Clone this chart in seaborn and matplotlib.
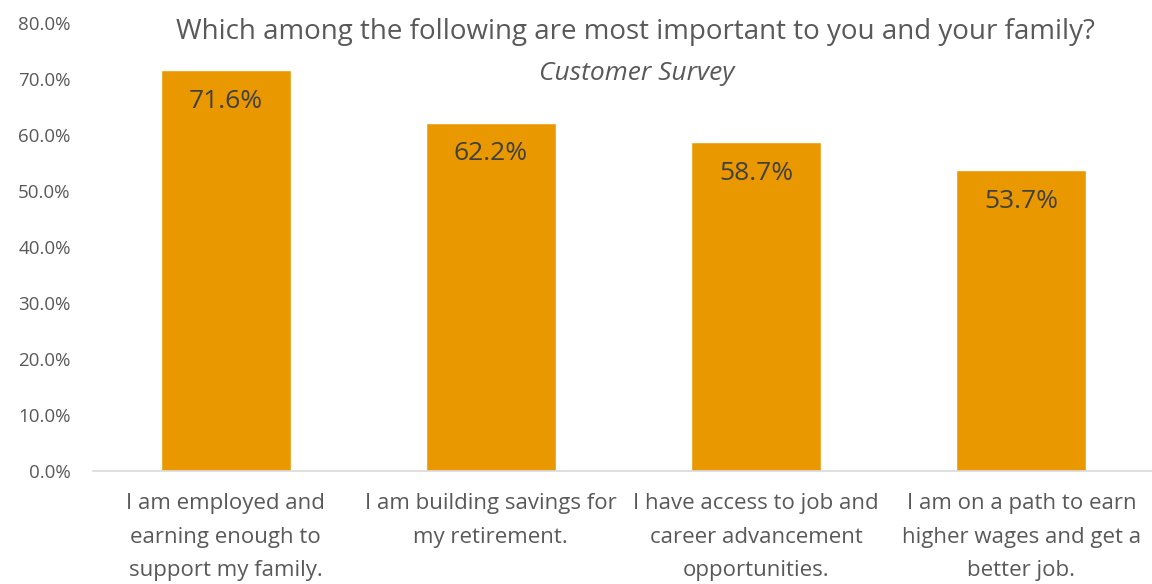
import matplotlib
matplotlib.use("Agg")
import matplotlib.pyplot as plt
import seaborn as sns
import pandas as pd
from matplotlib.ticker import PercentFormatter

# Datos de la encuesta
categories = [
    "I am employed and\nearning enough to\nsupport my family.",
    "I am building savings for\nmy retirement.",
    "I have access to job and\ncareer advancement\nopportunities.",
    "I am on a path to earn\nhigher wages and get a\nbetter job.",
]
values = [71.6, 62.2, 58.7, 53.7]

df = pd.DataFrame({"category": categories, "value": values})

sns.set_theme(style="white")
plt.rcParams["font.family"] = ["Open Sans", "DejaVu Sans"]

fig = plt.figure(figsize=(11.52, 5.84), dpi=100)
ax = fig.add_axes([0.0807, 0.1935, 0.921, 0.767])

sns.barplot(data=df, x="category", y="value", color="#EA9800", width=0.49,
            saturation=1, ax=ax)

for i, v in enumerate(values):
    ax.annotate(f"{v:.1f}%", (i, v), xytext=(0, -22.5), textcoords="offset points",
                ha="center", va="center", fontsize=19, color="#404040")

ax.set_ylim(0, 80)
ax.set_yticks(range(0, 81, 10))
ax.yaxis.set_major_formatter(PercentFormatter(decimals=1))
ax.set_xlim(-0.5, 3.5)
ax.set_xlabel("")
ax.set_ylabel("")
ax.tick_params(axis="y", labelsize=13.5, colors="#595959", length=0, pad=16)
ax.tick_params(axis="x", labelsize=16, colors="#595959", length=0, pad=16)
for lbl in ax.get_xticklabels():
    lbl.set_linespacing(1.78)
    lbl.set_verticalalignment("top")
for s in ["top", "right", "left"]:
    ax.spines[s].set_visible(False)
ax.spines["bottom"].set_color("#D9D9D9")
ax.spines["bottom"].set_linewidth(1.2)

fig.text(0.552, 0.945, "Which among the following are most important to you and your family?",
         ha="center", va="center", fontsize=20, color="#595959")
fig.text(0.553, 0.874, "Customer Survey", ha="center", va="center", fontsize=19,
         style="italic", color="#595959")

plt.savefig("out.png", dpi=100)
plt.close()
